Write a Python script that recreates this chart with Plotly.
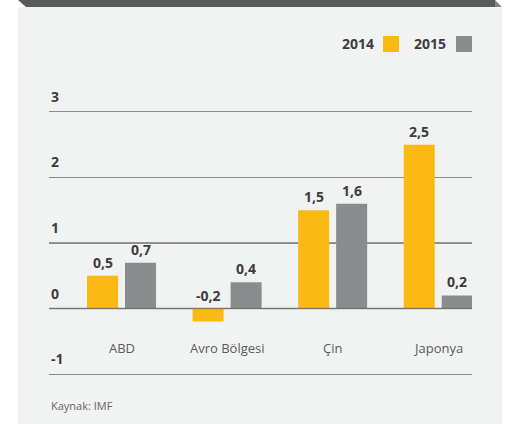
import plotly.graph_objects as go

categories = ["ABD", "Avro Bölgesi", "Çin", "Japonya"]
series_names = ["2014", "2015"]
values_2014 = [0.5, -0.2, 1.5, 2.5]
values_2015 = [0.7, 0.4, 1.6, 0.2]
y_ticks = [-1, 0, 1, 2, 3]
source_text = "Kaynak: IMF"

W, H = 506, 424
ORANGE = "#fdb913"
GRAY = "#8a8c8e"
TEXT = "#3d3d3f"
FONT = "Open Sans"

def px(x):
    return x / W

def py(y):
    return 1 - y / H

xs = list(range(len(categories)))
bar_w = 0.294
fig = go.Figure()
fig.add_trace(go.Bar(x=xs, y=values_2014, name=series_names[0], marker_color=ORANGE,
                     width=bar_w, offset=-0.327, marker_line_width=0, hoverinfo="skip"))
fig.add_trace(go.Bar(x=xs, y=values_2015, name=series_names[1], marker_color=GRAY,
                     width=bar_w, offset=0.033, marker_line_width=0, hoverinfo="skip"))

annotations = []
shapes = []

# background panel and top bar
shapes.append(dict(type="rect", xref="paper", yref="paper", x0=px(18), x1=px(502),
                   y0=py(424), y1=py(7), fillcolor="#f1f2f2", line_width=0, layer="below"))
shapes.append(dict(type="path", xref="paper", yref="paper",
                   path=f"M {px(18)},{py(0)} L {px(495)},{py(0)} L {px(495)},{py(7)} L {px(26)},{py(7)} Z",
                   fillcolor="#58595b", line_width=0, layer="below"))
shapes.append(dict(type="path", xref="paper", yref="paper",
                   path=f"M {px(495)},{py(0)} L {px(502)},{py(7)} L {px(495)},{py(7)} Z",
                   fillcolor="#808183", line_width=0, layer="below"))
# darker line at 1
shapes.append(dict(type="line", xref="paper", yref="y", x0=px(49), x1=px(472), y0=1, y1=1,
                   line=dict(color="#3a3a3a", width=1.2), layer="below"))
# zero baseline drawn over bar bottoms
shapes.append(dict(type="line", xref="paper", yref="y", x0=px(49), x1=px(472), y0=0, y1=0,
                   line=dict(color="rgba(110,110,112,0.8)", width=1.6), layer="above"))

# y tick labels above gridlines
for t in y_ticks:
    annotations.append(dict(x=px(49), y=t, xref="paper", yref="y", text=str(t), showarrow=False,
                            xanchor="left", yanchor="bottom", yshift=4,
                            font=dict(family=FONT, size=14, color=TEXT, weight="bold")))

# category labels
for i, c in enumerate(categories):
    annotations.append(dict(x=i, y=-0.6, xref="x", yref="y", text=c, showarrow=False,
                            xanchor="center", yanchor="middle",
                            font=dict(family=FONT, size=13, color="#5a5b5d")))

# value labels
for vals, off in ((values_2014, -0.327), (values_2015, 0.033)):
    for i, v in enumerate(vals):
        annotations.append(dict(x=i + off + bar_w / 2, y=max(v, 0), xref="x", yref="y",
                                text=f"{v:.1f}".replace(".", ","), showarrow=False,
                                xanchor="center", yanchor="bottom", yshift=2,
                                font=dict(family=FONT, size=14, color=TEXT, weight="bold")))

# legend (text then swatch)
legend_items = [(series_names[0], ORANGE, 376, 383), (series_names[1], GRAY, 448, 456)]
for name, col, tx, sx in legend_items:
    annotations.append(dict(x=px(tx), y=py(44), xref="paper", yref="paper", text=name,
                            showarrow=False, xanchor="right", yanchor="middle",
                            font=dict(family=FONT, size=14, color=TEXT, weight="bold")))
    shapes.append(dict(type="rect", xref="paper", yref="paper", x0=px(sx), x1=px(sx + 16),
                       y0=py(52), y1=py(36), fillcolor=col, line_width=0))

annotations.append(dict(x=px(49), y=py(405), xref="paper", yref="paper", text=source_text,
                        showarrow=False, xanchor="left", yanchor="middle",
                        font=dict(family=FONT, size=11, color="#666666")))

fig.update_layout(
    width=W, height=H, margin=dict(l=0, r=0, t=0, b=0),
    paper_bgcolor="white", plot_bgcolor="rgba(0,0,0,0)",
    showlegend=False, barmode="overlay", hovermode=False,
    xaxis=dict(domain=[px(49), px(472)], range=[-0.687, 3.32], showticklabels=False,
               showgrid=False, zeroline=False, fixedrange=True),
    yaxis=dict(domain=[py(377.3), py(108.7)], range=[-1.05, 3.05], tickvals=y_ticks,
               showticklabels=False, showgrid=True, gridcolor="#8c8c8c", gridwidth=1.3,
               zeroline=False, fixedrange=True),
    annotations=annotations, shapes=shapes,
)

fig.write_html("out.html", config={"displayModeBar": False},
               post_script="document.body.style.margin='0';document.body.style.overflow='hidden';")
